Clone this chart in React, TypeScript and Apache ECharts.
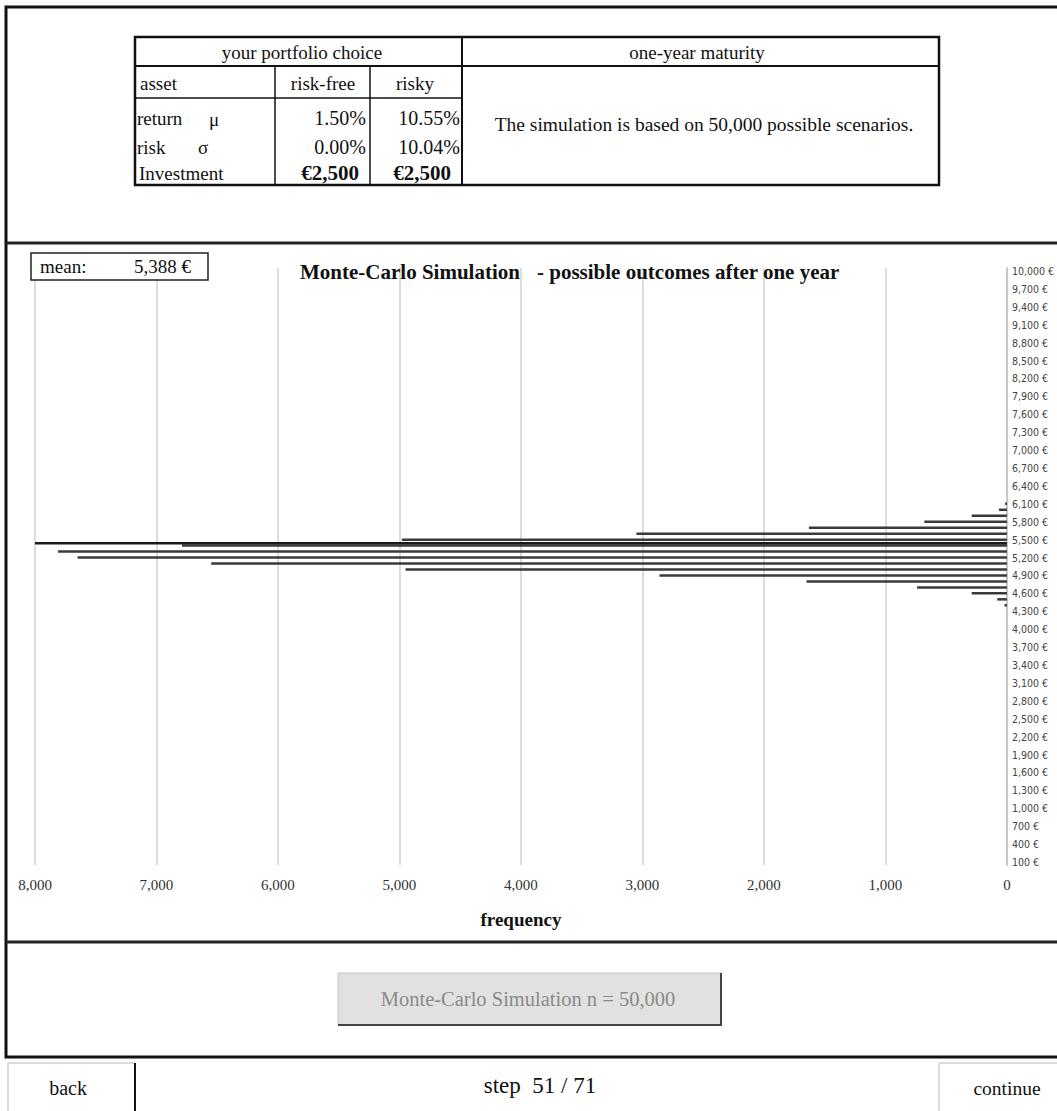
import React, { useEffect, useRef } from "react";
import * as echarts from "echarts";

// ---- data ----
const AXIS_MIN_EUR = 100;
const AXIS_MAX_EUR = 10000;
const BIN_STEP = 100;
// non-empty histogram bins (€) and their frequencies
const BIN_EUR = [4400, 4500, 4600, 4700, 4800, 4900, 5000, 5100, 5200, 5300, 5400, 5500, 5600, 5700, 5800, 5900, 6000, 6100];
const BIN_COUNT = [20, 80, 290, 740, 1650, 2860, 4950, 6550, 7650, 7810, 6790, 4980, 3050, 1630, 680, 290, 65, 15];
const MEAN_EUR = 5388;
const FREQ_TICKS = [0, 1000, 2000, 3000, 4000, 5000, 6000, 7000, 8000];

const SERIF = "'Liberation Serif', 'Times New Roman', serif";
const NARROW = "'Liberation Sans Narrow', 'DejaVu Sans Condensed', 'Liberation Sans', sans-serif";

function fmt(n: number) {
  return n.toLocaleString("en-US");
}

function buildCategories() {
  const cats: string[] = [];
  for (let v = AXIS_MIN_EUR; v <= AXIS_MAX_EUR; v += BIN_STEP) cats.push(String(v));
  return cats;
}

function lineEl(x1: number, y1: number, x2: number, y2: number, stroke: string, lineWidth: number) {
  return { type: "line", z: 100, shape: { x1, y1, x2, y2 }, style: { stroke, lineWidth }, silent: true };
}
function rectEl(x: number, y: number, width: number, height: number, style: any) {
  return { type: "rect", z: 100, shape: { x, y, width, height }, style, silent: true };
}
function textEl(x: number, y: number, text: string, o: any = {}) {
  return {
    type: "text",
    z: 110,
    x,
    y,
    silent: true,
    style: {
      text,
      fill: o.fill || "#111",
      fontSize: o.size || 19,
      fontFamily: o.family || SERIF,
      fontWeight: o.weight || "normal",
      align: o.align || "left",
      verticalAlign: "middle",
    },
  };
}

export default function App() {
  const ref = useRef<HTMLDivElement>(null);
  useEffect(() => {
    if (!ref.current) return;
    const chart = echarts.init(ref.current, null, { renderer: "svg" });
    const categories = buildCategories();
    const countByBin: Record<string, number> = {};
    BIN_EUR.forEach((b, i) => (countByBin[String(b)] = BIN_COUNT[i]));
    const barData = categories.map((c) => countByBin[c] || 0);

    const graphics: any[] = [
      // outer frame and separators
      rectEl(6, 7, 1070, 1050, { fill: "none", stroke: "#111", lineWidth: 3 }),
      lineEl(6, 243, 1057, 243, "#222", 3),
      lineEl(6, 942, 1057, 942, "#222", 3),
      // table
      rectEl(135, 37, 804, 148, { fill: "#fff", stroke: "#111", lineWidth: 2.5 }),
      lineEl(135, 66, 939, 66, "#111", 2),
      lineEl(135, 98, 462, 98, "#111", 1.5),
      lineEl(462, 37, 462, 185, "#111", 2),
      lineEl(275, 66, 275, 185, "#111", 1.5),
      lineEl(370, 66, 370, 185, "#111", 1.5),
      textEl(302, 52, "your portfolio choice", { align: "center" }),
      textEl(697, 52, "one-year maturity", { align: "center" }),
      textEl(140, 83, "asset"),
      textEl(323, 83, "risk-free", { align: "center" }),
      textEl(415, 83, "risky", { align: "center" }),
      textEl(137, 118, "return"),
      textEl(209, 119, "μ"),
      textEl(137, 147, "risk"),
      textEl(198, 147, "σ"),
      textEl(139, 173, "Investment"),
      textEl(366, 118, "1.50%", { align: "right", size: 20 }),
      textEl(460, 118, "10.55%", { align: "right", size: 20 }),
      textEl(366, 147, "0.00%", { align: "right", size: 20 }),
      textEl(460, 147, "10.04%", { align: "right", size: 20 }),
      textEl(359, 173, "€2,500", { align: "right", weight: "bold", size: 21 }),
      textEl(451, 173, "€2,500", { align: "right", weight: "bold", size: 21 }),
      textEl(704, 124, "The simulation is based on 50,000 possible scenarios.", { align: "center", size: 19.5 }),
      // mean box
      rectEl(31, 253, 177, 27, { fill: "#fff", stroke: "#222", lineWidth: 1.5 }),
      textEl(40, 266, "mean:", { size: 19 }),
      textEl(191, 266, fmt(MEAN_EUR) + " €", { align: "right", size: 19 }),
      // chart title
      textEl(300, 272, "Monte-Carlo Simulation", { weight: "bold", size: 21 }),
      textEl(537, 272, "- possible outcomes after one year", { weight: "bold", size: 21 }),
      // simulation button
      rectEl(338, 973, 383, 52, { fill: "#e1e1e1", stroke: "#c4c4c4", lineWidth: 1 }),
      lineEl(338, 1025, 722, 1025, "#444", 2),
      lineEl(721, 973, 721, 1026, "#444", 2),
      textEl(528, 999, "Monte-Carlo Simulation n = 50,000", { align: "center", size: 20.5, fill: "#8a8a8a" }),
      // footer
      lineEl(8, 1063, 135, 1063, "#cfcfcf", 1.5),
      lineEl(8, 1063, 8, 1111, "#cfcfcf", 1.5),
      lineEl(135, 1063, 135, 1111, "#111", 2),
      textEl(68, 1088, "back", { align: "center", size: 20 }),
      textEl(540, 1085, "step  51 / 71", { align: "center", size: 23 }),
      lineEl(939, 1063, 1057, 1063, "#cfcfcf", 1.5),
      lineEl(939, 1063, 939, 1111, "#cfcfcf", 1.5),
      textEl(1007, 1088, "continue", { align: "center", size: 19.5 }),
    ];

    chart.setOption({
      animation: false,
      backgroundColor: "#ffffff",
      grid: { left: 35, right: 49, top: 268, bottom: 246, containLabel: false },
      xAxis: {
        type: "value",
        inverse: true,
        min: FREQ_TICKS[0],
        max: FREQ_TICKS[FREQ_TICKS.length - 1],
        interval: FREQ_TICKS[1] - FREQ_TICKS[0],
        name: "frequency",
        nameLocation: "middle",
        nameGap: 45,
        nameTextStyle: { fontFamily: SERIF, fontWeight: "bold", fontSize: 19, color: "#111" },
        axisLine: { show: false },
        axisTick: { show: false },
        splitLine: { show: true, lineStyle: { color: "#d0d0d0", width: 1.5 } },
        axisLabel: {
          margin: 12,
          color: "#333",
          fontFamily: SERIF,
          fontSize: 15,
          formatter: (v: number) => fmt(v),
        },
      },
      yAxis: [
        {
          type: "category",
          data: categories,
          position: "right",
          boundaryGap: true,
          axisLine: { show: true, lineStyle: { color: "#c8c8c8", width: 2 } },
          axisTick: { show: false },
          splitLine: { show: false },
          axisLabel: {
            interval: 2,
            margin: 5,
            color: "#444",
            fontFamily: NARROW,
            fontSize: 10.5,
            formatter: (v: string) => fmt(Number(v)) + " €",
          },
        },
        { type: "value", min: 0, max: AXIS_MAX_EUR, show: false },
      ],
      series: [
        {
          type: "bar",
          yAxisIndex: 0,
          data: barData,
          barWidth: 2.5,
          itemStyle: { color: "#3a3a3a" },
          silent: true,
        },
        {
          type: "line",
          yAxisIndex: 1,
          data: [
            [FREQ_TICKS[0], MEAN_EUR],
            [FREQ_TICKS[FREQ_TICKS.length - 1], MEAN_EUR],
          ],
          symbol: "none",
          lineStyle: { color: "#1a1a1a", width: 2.5 },
          silent: true,
          z: 5,
        },
      ],
      graphic: graphics,
    });
    return () => chart.dispose();
  }, []);
  return <div ref={ref} style={{ position: "absolute", left: 0, top: 0, width: 1057, height: 1111 }} />;
}
